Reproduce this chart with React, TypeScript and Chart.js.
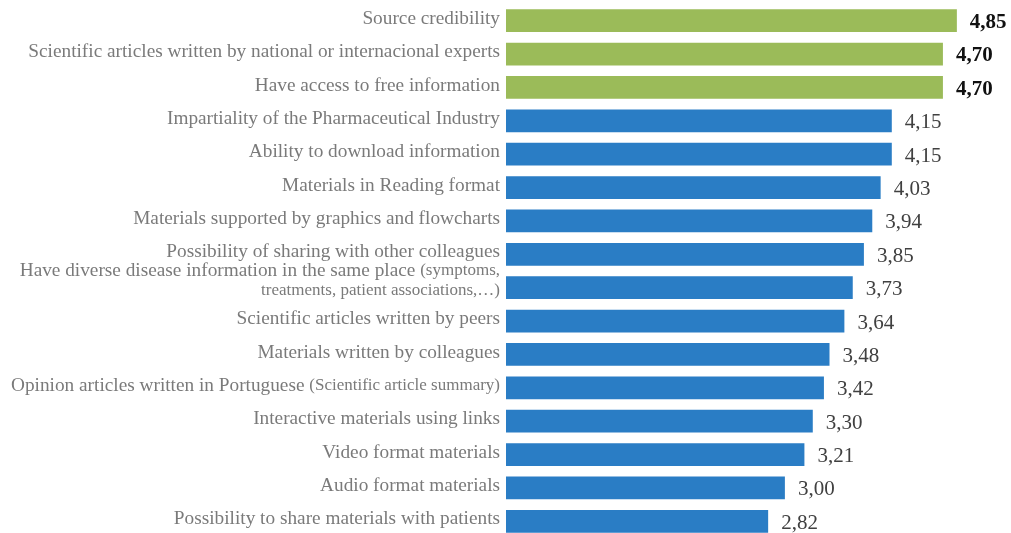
import React, { useEffect, useRef } from "react";
import { Chart, registerables } from "chart.js";

Chart.register(...registerables);

// "\n" breaks a label onto a new line; text from "(" onwards is set smaller
const categories: string[] = [
  "Source credibility",
  "Scientific articles written by national or internacional experts",
  "Have access to free information",
  "Impartiality of the Pharmaceutical Industry",
  "Ability to download information",
  "Materials in Reading format",
  "Materials supported by graphics and flowcharts",
  "Possibility of sharing with other colleagues",
  "Have diverse disease information in the same place (symptoms,\ntreatments, patient associations,…)",
  "Scientific articles written by peers",
  "Materials written by colleagues",
  "Opinion articles written in Portuguese (Scientific article summary)",
  "Interactive materials using links",
  "Video format materials",
  "Audio format materials",
  "Possibility to share materials with patients",
];

const values = [4.85, 4.7, 4.7, 4.15, 4.15, 4.03, 3.94, 3.85, 3.73, 3.64, 3.48, 3.42, 3.3, 3.21, 3.0, 2.82];

// The first three items are the highlighted ones
const highlightCount = 3;

const GREEN = "#9BBB59";
const BLUE = "#2A7DC5";
const SERIF = "'Liberation Serif', 'Times New Roman', serif";
const LABEL_SIZE = 19.3;
const LABEL_SMALL_SIZE = 17;
const LINE_GAP = 20;

const formatValue = (v: number) => v.toFixed(2).replace(".", ",");

// Category labels with a smaller font for the parenthetical part
const categoryLabels = {
  id: "categoryLabels",
  afterDraw(chart: any) {
    const ctx = chart.ctx;
    const yScale = chart.scales.y;
    const right = chart.chartArea.left - 6;
    ctx.save();
    ctx.textBaseline = "middle";
    ctx.textAlign = "right";
    ctx.fillStyle = "#7A7A7A";
    categories.forEach((label, i) => {
      const y = yScale.getPixelForTick(i);
      const lines = label.split("\n");
      const n = lines.length;
      let small = false;
      const segmentsPerLine = lines.map((line) => {
        const segs: { text: string; small: boolean }[] = [];
        if (small) {
          segs.push({ text: line, small: true });
        } else {
          const p = line.indexOf("(");
          if (p >= 0) {
            segs.push({ text: line.slice(0, p), small: false });
            segs.push({ text: line.slice(p), small: true });
            small = true;
          } else {
            segs.push({ text: line, small: false });
          }
        }
        return segs;
      });
      segmentsPerLine.forEach((segs, k) => {
        const ly = y + (k - (n - 1) / 2) * LINE_GAP - 2 - (n - 1) * 5;
        let x = right;
        for (let s = segs.length - 1; s >= 0; s--) {
          const seg = segs[s];
          ctx.font = `${seg.small ? LABEL_SMALL_SIZE : LABEL_SIZE}px ${SERIF}`;
          ctx.fillText(seg.text, x, ly);
          x -= ctx.measureText(seg.text).width;
        }
      });
    });
    ctx.restore();
  },
};

const valueLabels = {
  id: "valueLabels",
  afterDatasetsDraw(chart: any) {
    const ctx = chart.ctx;
    const meta = chart.getDatasetMeta(0);
    ctx.save();
    ctx.textBaseline = "middle";
    ctx.textAlign = "left";
    meta.data.forEach((bar: any, i: number) => {
      const bold = i < highlightCount;
      ctx.font = `${bold ? "bold " : ""}21px ${SERIF}`;
      ctx.fillStyle = bold ? "#111111" : "#404040";
      ctx.fillText(formatValue(values[i]), bar.x + 13, bar.y + 2);
    });
    ctx.restore();
  },
};

export default function App() {
  const canvasRef = useRef<HTMLCanvasElement | null>(null);

  useEffect(() => {
    document.body.style.margin = "0";
    document.body.style.overflow = "hidden";
    const canvas = canvasRef.current;
    if (!canvas) return;
    const chart = new Chart(canvas, {
      type: "bar",
      data: {
        labels: categories,
        datasets: [
          {
            data: values,
            backgroundColor: values.map((_, i) => (i < highlightCount ? GREEN : BLUE)),
            barPercentage: 0.68,
            categoryPercentage: 1,
            borderWidth: 0,
          },
        ],
      },
      options: {
        indexAxis: "y",
        animation: false,
        responsive: false,
        maintainAspectRatio: false,
        layout: { padding: { top: 4, bottom: 2, left: 0, right: 3 } },
        plugins: {
          legend: { display: false },
          tooltip: { enabled: false },
        },
        scales: {
          x: {
            display: false,
            min: 0,
            max: 5.4,
          },
          y: {
            grid: { display: false, drawTicks: false },
            border: { display: false },
            ticks: { display: false, autoSkip: false },
            afterFit: (scale: any) => {
              scale.width = 506;
              scale.paddingTop = 0;
              scale.paddingBottom = 0;
            },
          },
        },
      },
      plugins: [valueLabels, categoryLabels],
    });
    return () => chart.destroy();
  }, []);

  return (
    <div style={{ position: "absolute", left: 0, top: 0, width: 1011, height: 533, overflow: "hidden", background: "#fff" }}>
      <canvas ref={canvasRef} width={1011} height={540} style={{ display: "block" }} />
    </div>
  );
}
